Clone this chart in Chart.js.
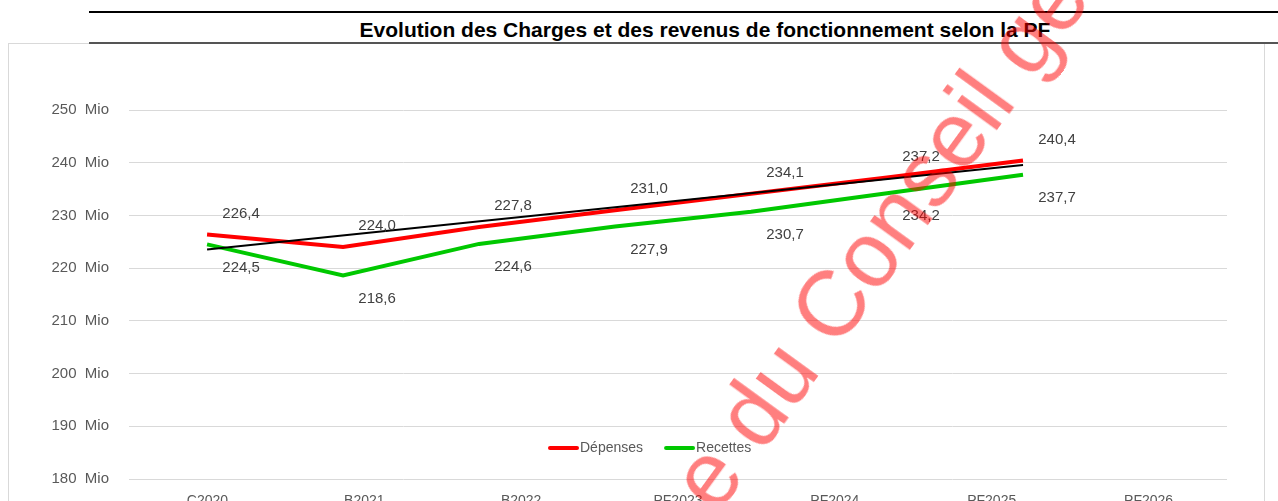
<!DOCTYPE html>
<html>
<head>
<meta charset="utf-8">
<script src="https://cdn.jsdelivr.net/npm/chart.js@4.4.0/dist/chart.umd.min.js"></script>
<style>
  body { margin: 0; width: 1278px; height: 501px; overflow: hidden; background: #fff; position: relative; font-family: "Liberation Sans", Arial, sans-serif; }
  .rule { position: absolute; left: 89px; width: 1189px; }
  #rule1 { top: 11px; height: 2px; background: #000; }
  #rule2 { top: 42px; height: 2px; background: #555; }
  #title { position: absolute; left: 330px; width: 750px; top: 18px; text-align: center; font-weight: bold; font-size: 21px; color: #000; white-space: nowrap; }
  #box { position: absolute; left: 8px; top: 43px; width: 1255px; height: 480px; border: 1px solid #d9d9d9; }
  #wrap { position: absolute; left: 9px; top: 44px; width: 1254px; height: 480px; }
  #stamp { position: absolute; left: 728px; top: 432px; font-size: 92px; line-height: 1; color: rgba(255, 0, 0, 0.5); white-space: nowrap; transform-origin: 0 100%; transform: rotate(-54deg); }
</style>
</head>
<body>
<div id="rule1" class="rule"></div>
<div id="title">Evolution des Charges et des revenus de fonctionnement selon la PF</div>
<div id="box"></div>
<div id="rule2" class="rule"></div>
<div id="wrap"><canvas id="myChart"></canvas></div>
<div id="stamp">e du Conseil général</div>

<script>
// data
var years = ["C2020", "B2021", "B2022", "PF2023", "PF2024", "PF2025", "PF2026"];
var depenses = [226.4, 224.0, 227.8, 231.0, 234.1, 237.2, 240.4];
var recettes = [224.5, 218.6, 224.6, 227.9, 230.7, 234.2, 237.7];
var yTicks = [180, 190, 200, 210, 220, 230, 240, 250];

var RED = "#ff0000";
var GREEN = "#00c800";

function frNum(v) {
    return v.toFixed(1).replace(".", ",");
}

function points(arr) {
    return arr.map(function(v, i) { return { x: i, y: v }; });
}

// linear trend of the Dépenses series (Excel trendline)
function trend(arr) {
    var n = arr.length, sx = 0, sy = 0, sxy = 0, sxx = 0;
    for (var i = 0; i < n; i++) {
        sx += i; sy += arr[i]; sxy += i * arr[i]; sxx += i * i;
    }
    var b = (n * sxy - sx * sy) / (n * sxx - sx * sx);
    var a = (sy - b * sx) / n;
    return [{ x: 0, y: a }, { x: n - 1, y: a + b * (n - 1) }];
}

///////////////// data labels + legend //////////////////
var labelsPlugin = {
    id: "valueLabels",
    afterDatasetsDraw: function(chart) {
        var ctx = chart.ctx;
        ctx.save();
        ctx.font = "15px 'Liberation Sans', Arial, sans-serif";
        ctx.fillStyle = "#404040";
        ctx.textAlign = "center";
        ctx.textBaseline = "middle";
        [1, 2].forEach(function(di) {
            var meta = chart.getDatasetMeta(di);
            var vals = chart.data.datasets[di].raw;
            meta.data.forEach(function(pt, i) {
                var dy = di === 1 ? -21 : 23;
                ctx.fillText(frNum(vals[i]), pt.x + 34, pt.y + dy);
            });
        });
        ctx.restore();
    },
    afterDraw: function(chart) {
        var ctx = chart.ctx;
        var items = [{ label: "Dépenses", color: RED }, { label: "Recettes", color: GREEN }];
        var x = 541, y = 404;
        ctx.save();
        ctx.font = "14px 'Liberation Sans', Arial, sans-serif";
        ctx.textBaseline = "middle";
        items.forEach(function(it) {
            ctx.strokeStyle = it.color;
            ctx.lineWidth = 4;
            ctx.lineCap = "round";
            ctx.beginPath();
            ctx.moveTo(x, y);
            ctx.lineTo(x + 27, y);
            ctx.stroke();
            ctx.fillStyle = "#595959";
            ctx.fillText(it.label, x + 30, y);
            x += 30 + ctx.measureText(it.label).width + 23;
        });
        ctx.restore();
    }
};

var ctx = document.getElementById("myChart");
var myChart = new Chart(ctx, {
    type: "line",
    data: {
        labels: years,
        datasets: [{
            label: "Tendance",
            data: trend(depenses),
            xAxisID: "xl",
            borderColor: "#000",
            borderWidth: 2,
            pointRadius: 0
        }, {
            label: "Dépenses",
            data: points(depenses),
            raw: depenses,
            xAxisID: "xl",
            borderColor: RED,
            borderWidth: 4,
            pointRadius: 0,
            tension: 0
        }, {
            label: "Recettes",
            data: points(recettes),
            raw: recettes,
            xAxisID: "xl",
            borderColor: GREEN,
            borderWidth: 4,
            pointRadius: 0,
            tension: 0
        }]
    },
    options: {
        responsive: true,
        maintainAspectRatio: false,
        animation: false,
        layout: { padding: { left: 0, top: 66, right: 36, bottom: 5 } },
        plugins: {
            legend: { display: false },
            tooltip: { enabled: false }
        },
        scales: {
            x: {
                type: "category",
                offset: true,
                grid: { display: false, drawTicks: false },
                border: { display: false },
                ticks: { color: "#595959", font: { size: 14, family: "'Liberation Sans', Arial, sans-serif" }, padding: 14, maxRotation: 0 },
                afterFit: function(s) { s.height = 40; }
            },
            xl: {
                type: "linear",
                display: false,
                min: -0.574,
                max: 7.5
            },
            y: {
                min: yTicks[0],
                max: yTicks[yTicks.length - 1],
                afterBuildTicks: function(s) {
                    s.ticks = yTicks.map(function(v) { return { value: v }; });
                },
                grid: { color: "#d9d9d9", lineWidth: 1, drawTicks: false },
                border: { display: false },
                ticks: {
                    color: "#595959",
                    font: { size: 15, family: "'Liberation Sans', Arial, sans-serif" },
                    padding: 20,
                    callback: function(v) { return v + "  Mio"; }
                },
                afterFit: function(s) { s.width = 120; }
            }
        }
    },
    plugins: [labelsPlugin]
});
</script>
</body>
</html>
